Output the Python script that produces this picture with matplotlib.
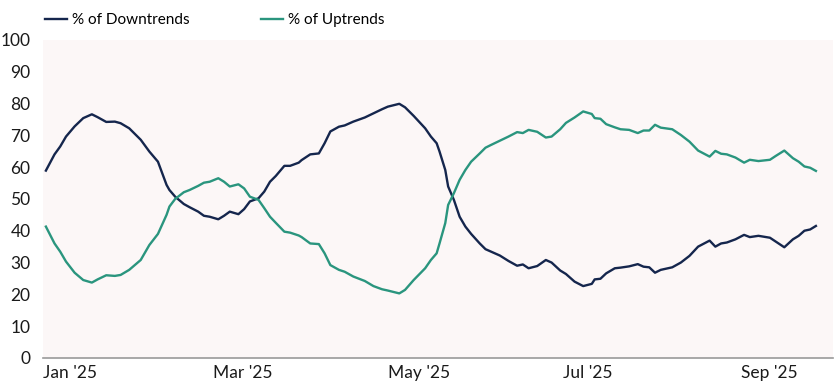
import numpy as np
import pandas as pd
import matplotlib
matplotlib.use("Agg")
import matplotlib.pyplot as plt

plt.rcParams["font.family"] = ["Lato", "DejaVu Sans"]
plt.rcParams["font.size"] = 12.5

DOWN_COLOR = "#15264d"
UP_COLOR = "#2a957e"
BG_COLOR = "#fcf7f7"

dates = pd.to_datetime([
    "2025-01-02", "2025-01-05", "2025-01-07", "2025-01-09", "2025-01-12",
    "2025-01-15", "2025-01-18", "2025-01-20", "2025-01-23", "2025-01-26",
    "2025-01-28", "2025-01-31", "2025-02-04", "2025-02-07", "2025-02-10",
    "2025-02-13", "2025-02-14", "2025-02-16", "2025-02-19", "2025-02-21",
    "2025-02-24", "2025-02-26", "2025-02-28", "2025-03-03", "2025-03-05",
    "2025-03-07", "2025-03-10", "2025-03-12", "2025-03-14", "2025-03-17",
    "2025-03-19", "2025-03-21", "2025-03-23", "2025-03-26", "2025-03-28",
    "2025-03-31", "2025-04-01", "2025-04-04", "2025-04-07", "2025-04-09",
    "2025-04-11", "2025-04-14", "2025-04-16", "2025-04-19", "2025-04-23",
    "2025-04-26", "2025-04-29", "2025-05-01", "2025-05-05", "2025-05-07",
    "2025-05-10", "2025-05-14", "2025-05-16", "2025-05-18", "2025-05-19",
    "2025-05-21", "2025-05-22", "2025-05-24", "2025-05-26", "2025-05-28",
    "2025-05-30", "2025-06-02", "2025-06-04", "2025-06-06", "2025-06-09",
    "2025-06-12", "2025-06-15", "2025-06-17", "2025-06-19", "2025-06-22",
    "2025-06-25", "2025-06-27", "2025-06-30", "2025-07-02", "2025-07-05",
    "2025-07-08", "2025-07-11", "2025-07-12", "2025-07-14", "2025-07-16",
    "2025-07-19", "2025-07-21", "2025-07-24", "2025-07-27", "2025-07-29",
    "2025-07-31", "2025-08-02", "2025-08-04", "2025-08-08", "2025-08-11",
    "2025-08-14", "2025-08-17", "2025-08-21", "2025-08-23", "2025-08-25",
    "2025-08-27", "2025-08-30", "2025-09-02", "2025-09-04", "2025-09-07",
    "2025-09-11", "2025-09-13", "2025-09-16", "2025-09-19", "2025-09-21",
    "2025-09-23", "2025-09-25", "2025-09-27",
])

pct_down = [
    58.9, 64.0, 66.5, 69.6, 72.8, 75.4, 76.6, 75.7, 74.2, 74.3,
    73.8, 72.2, 68.6, 64.9, 61.7, 54.4, 52.8, 50.7, 48.4, 47.4,
    46.0, 44.7, 44.4, 43.6, 44.7, 46.0, 45.2, 46.8, 49.2, 50.2,
    52.3, 55.4, 57.2, 60.4, 60.4, 61.4, 62.2, 64.0, 64.3, 67.5,
    71.2, 72.7, 73.1, 74.3, 75.6, 76.9, 78.2, 79.0, 79.9, 78.8,
    76.1, 72.2, 69.6, 67.5, 64.9, 59.1, 53.9, 49.7, 44.4, 41.3,
    39.0, 36.0, 34.2, 33.4, 32.2, 30.5, 29.0, 29.4, 28.2, 28.9,
    30.8, 30.0, 27.5, 26.4, 24.0, 22.6, 23.3, 24.7, 24.9, 26.6,
    28.2, 28.4, 28.8, 29.5, 28.7, 28.5, 26.8, 27.7, 28.5, 30.0,
    32.1, 35.0, 36.9, 35.0, 36.0, 36.3, 37.3, 38.7, 38.0, 38.4,
    37.8, 36.6, 34.8, 37.3, 38.4, 40.0, 40.4, 41.5,
]

pct_up = [
    41.3, 36.0, 33.4, 30.3, 26.8, 24.5, 23.7, 24.7, 26.0, 25.8,
    26.1, 27.7, 30.8, 35.5, 39.0, 45.0, 47.6, 50.0, 52.1, 52.8,
    54.1, 55.1, 55.4, 56.5, 55.4, 53.9, 54.6, 53.3, 50.7, 49.7,
    47.1, 44.4, 42.5, 39.7, 39.4, 38.5, 38.0, 36.0, 35.8, 32.9,
    29.2, 27.7, 27.1, 25.6, 24.2, 22.6, 21.6, 21.2, 20.3, 21.4,
    24.5, 28.2, 30.8, 32.9, 36.0, 42.4, 48.1, 51.8, 56.0, 59.1,
    61.7, 64.3, 66.1, 67.0, 68.3, 69.6, 71.0, 70.7, 71.7, 71.1,
    69.3, 69.6, 71.9, 73.9, 75.6, 77.5, 76.7, 75.4, 75.2, 73.5,
    72.5, 71.9, 71.7, 70.7, 71.5, 71.5, 73.3, 72.4, 71.9, 70.1,
    68.0, 65.2, 63.3, 65.1, 64.2, 64.0, 63.0, 61.4, 62.3, 61.9,
    62.3, 63.5, 65.2, 62.8, 61.7, 60.2, 59.8, 58.8,
]

tick_dates = pd.to_datetime(["2025-01-01", "2025-03-01", "2025-05-01",
                             "2025-07-01", "2025-09-01"])
tick_labels = ["Jan '25", "Mar '25", "May '25", "Jul '25", "Sep '25"]

fig = plt.figure(figsize=(8.37, 3.87), dpi=100)
ax = fig.add_axes([0.0514, 0.075, 0.944, 0.822])
ax.set_facecolor(BG_COLOR)

ax.plot(dates, pct_down, color=DOWN_COLOR, lw=1.7, label="% of Downtrends")
ax.plot(dates, pct_up, color=UP_COLOR, lw=1.7, label="% of Uptrends")

ax.set_ylim(0, 100)
ax.set_yticks(np.arange(0, 101, 10))
ax.set_xlim(pd.Timestamp("2025-01-01"), pd.Timestamp("2025-10-03"))
ax.set_xticks(tick_dates)
ax.set_xticklabels(tick_labels, ha="left")

for side in ["top", "right", "left"]:
    ax.spines[side].set_visible(False)
ax.spines["bottom"].set_color("#9a9a9a")
ax.spines["bottom"].set_linewidth(1.2)
ax.tick_params(axis="both", length=0, colors="#1a1a1a", labelsize=12.5)
ax.tick_params(axis="y", pad=9)
ax.tick_params(axis="x", pad=5)

# legend sits above the plot area, flush with its left edge
ax.legend(loc="lower left", bbox_to_anchor=(-0.005, 1.02), ncol=2,
          frameon=False, handlelength=1.4, handletextpad=0.35,
          columnspacing=4.7, borderaxespad=0, fontsize=11)

fig.savefig("out.png", dpi=100)
